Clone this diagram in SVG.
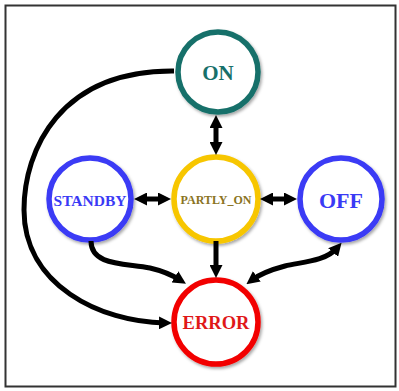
<svg xmlns="http://www.w3.org/2000/svg" width="399" height="391" viewBox="0 0 399 391">
<defs>
<filter id="sh" x="-30%" y="-30%" width="160%" height="160%"><feDropShadow dx="1.5" dy="2" stdDeviation="1.8" flood-color="#000" flood-opacity="0.35"/></filter>
<marker id="ah" viewBox="0 0 13 13" markerWidth="13" markerHeight="13" markerUnits="userSpaceOnUse" refX="6" refY="6.5" orient="auto-start-reverse"><path d="M0,0 L13,6.5 L0,13 z" fill="#000"/></marker>
</defs>
<style>
.ring{fill:#fff;stroke-width:5.5;filter:url(#sh)}
.lbl{font-family:"Liberation Serif","Times New Roman",serif;font-weight:bold;text-anchor:middle;dominant-baseline:central}
.c{fill:none;stroke:#000;stroke-width:5}
</style>
<rect x="5.5" y="5.5" width="390" height="381" fill="#fff" stroke="#333" stroke-width="2"/>
<g id="ON"><circle class="ring" cx="218" cy="72" r="40" stroke="#17706a"/><text class="lbl" x="218" y="73" font-size="21" fill="#17706a">ON</text></g>
<g id="STANDBY"><circle class="ring" cx="90" cy="199" r="41" stroke="#3a3af5"/><text class="lbl" x="90" y="200" font-size="15.5" fill="#3a3af5">STANDBY</text></g>
<g id="PARTLY_ON"><circle class="ring" cx="216" cy="199" r="42" stroke="#f7c600"/><text class="lbl" x="216" y="200" font-size="12" fill="#8a7322">PARTLY_ON</text></g>
<g id="OFF"><circle class="ring" cx="341" cy="199" r="41" stroke="#3a3af5"/><text class="lbl" x="341" y="200" font-size="22" fill="#3a3af5">OFF</text></g>
<g id="ERROR"><circle class="ring" cx="216" cy="322" r="42" stroke="#f20000"/><text class="lbl" x="216" y="323" font-size="18.5" fill="#e01818">ERROR</text></g>
<g id="connectors">
<path class="c" d="M216 122 L216 148" marker-start="url(#ah)" marker-end="url(#ah)"/>
<path class="c" d="M141 199 L164 199" marker-start="url(#ah)" marker-end="url(#ah)"/>
<path class="c" d="M267 199 L290 199" marker-start="url(#ah)" marker-end="url(#ah)"/>
<path class="c" d="M216 241 L216 271" marker-end="url(#ah)"/>
<path class="c" d="M91 241 C91 266 125 263 150 268 C163 271 172 275 180 280" marker-end="url(#ah)"/>
<path class="c" d="M337 248 C325 262 300 262 285 266 C270 270 260 274 252 280" marker-start="url(#ah)" marker-end="url(#ah)"/>
<path class="c" d="M174 71 C60 70 24 150 24 210 C24 285 100 322 165 323" marker-end="url(#ah)"/>
</g>
</svg>
